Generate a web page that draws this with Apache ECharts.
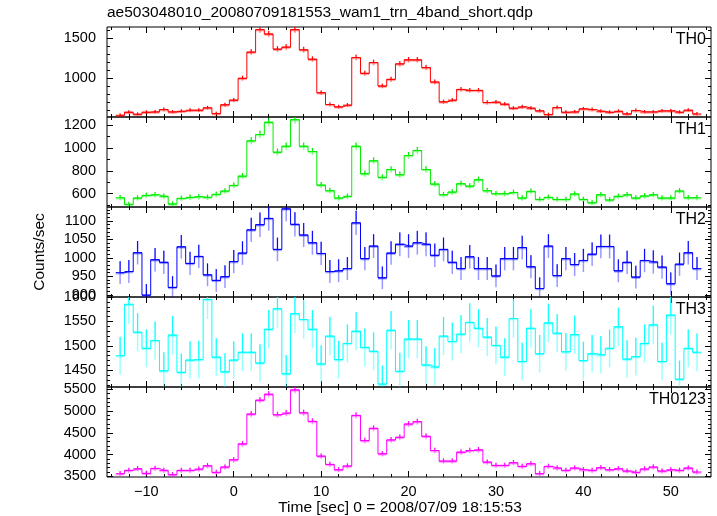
<!DOCTYPE html>
<html>
<head>
<meta charset="utf-8">
<script src="https://cdn.jsdelivr.net/npm/echarts@6/dist/echarts.min.js"></script>
<style>html,body{margin:0;padding:0;background:#fff}#c{width:717px;height:516px}</style>
</head>
<body>
<div id="c"></div>
<script>
// ---- data ----
const fileTitle = 'ae503048010_20080709181553_wam1_trn_4band_short.qdp';
const xTitle = 'Time [sec] 0 = 2008/07/09 18:15:53';
const yTitle = 'Counts/sec';
const panelNames = ['TH0', 'TH1', 'TH2', 'TH3', 'TH0123'];

const timeBins = [-13,-12,-11,-10,-9,-8,-7,-6,-5,-4,-3,-2,-1,0,1,2,3,4,5,6,7,8,9,10,11,12,13,14,15,16,17,18,19,
  20,21,22,23,24,25,26,27,28,29,30,31,32,33,34,35,36,37,38,39,40,41,42,43,44,45,46,47,48,49,50,51,52,53];

const th0 = [541,579,554,579,583,612,583,591,604,604,633,562,671,729,1000,1325,1604,1550,1362,1387,1604,1354,1237,821,675,646,667,1258,1062,1196,904,987,1179,
  1229,1229,1133,954,708,729,862,850,850,700,704,679,629,646,629,596,550,637,579,583,621,612,591,579,591,558,600,583,583,596,596,579,604,558];
const th1 = [565,507,562,585,591,577,510,559,568,574,568,594,623,672,753,1061,1116,1223,962,1014,1246,1014,968,675,626,562,577,1014,774,887,742,811,765,
  933,977,811,684,591,614,687,666,722,626,600,600,611,562,620,550,568,550,550,597,550,521,591,545,577,591,562,580,591,562,562,623,565,565];
const th2 = [960,963,1014,899,995,988,920,1030,985,1004,954,939,949,990,1013,1076,1090,1107,1023,1133,1091,1062,1041,1012,963,965,971,1095,998,1032,946,1013,1037,
  1032,1041,1037,1007,1023,988,971,1003,971,971,951,998,998,1028,976,917,1032,952,998,982,993,1010,1031,1031,965,988,948,993,989,975,930,983,1014,971];
const th3 = [1480,1585,1528,1495,1511,1449,1522,1446,1471,1472,1595,1477,1447,1471,1487,1487,1465,1534,1576,1443,1566,1554,1534,1463,1520,1472,1505,1530,1497,1489,1422,1532,1448,
  1514,1514,1461,1457,1520,1509,1524,1548,1536,1518,1501,1477,1556,1468,1536,1484,1547,1526,1488,1523,1470,1484,1482,1495,1539,1473,1478,1505,1543,1468,1563,1432,1495,1487];
const th0123 = [3561,3637,3675,3568,3682,3637,3538,3637,3637,3667,3743,3591,3713,3880,4245,4930,5249,5386,4914,4952,5485,4960,4762,3964,3774,3652,3736,4899,4321,4603,4017,4336,4397,
  4701,4755,4420,4093,3850,3850,4055,4093,4108,3827,3751,3751,3812,3728,3789,3561,3728,3690,3637,3690,3652,3637,3698,3652,3675,3622,3591,3667,3713,3622,3652,3637,3690,3599];

const xTickLabels = [-10, 0, 10, 20, 30, 40, 50];
const yTickLabels = [
  [1000, 1500],
  [600, 800, 1000, 1200],
  [900, 950, 1000, 1050, 1100],
  [1450, 1500, 1550, 1600],
  [3500, 4000, 4500, 5000, 5500]
];

// ---- layout / style ----
const seriesValues = [th0, th1, th2, th3, th0123];
const colors = ['#ff0000', '#00ee00', '#0000ff', '#00ffff', '#ff00ff'];
const yRanges = [[520, 1637], [484, 1269], [894, 1138], [1416, 1600], [3485, 5552]];
const yMinorStep = [100, 100, 10, 10, 100];
const xRange = [-14.5, 54.6];
const FONT = '"Liberation Sans", Arial, Helvetica, sans-serif';
const gridLeft = 107, gridRight = 6, gridTop0 = 27, panelH = 90;

function steps(a, b, s) { const r = []; for (let v = Math.ceil(a / s) * s; v <= b + 1e-9; v += s) r.push(+v.toFixed(6)); return r; }
const xMinor = steps(xRange[0], xRange[1], 2);

const grids = [], xAxes = [], yAxes = [], series = [], titles = [];
titles.push({ text: fileTitle, left: gridLeft, top: 5, padding: 0,
  textStyle: { fontSize: 15.5, fontWeight: 'normal', color: '#000', fontFamily: FONT } });

function axisBase(extra) {
  return Object.assign({
    type: 'value', axisLine: { show: false, onZero: false },
    splitLine: { show: false }, minorTick: { show: false }, minorSplitLine: { show: false }
  }, extra);
}

for (let i = 0; i < 5; i++) {
  const top = gridTop0 + panelH * i;
  grids.push({ left: gridLeft, right: gridRight, top: top, height: panelH, show: true,
    borderColor: '#000', borderWidth: 1, backgroundColor: 'transparent' });
  const last = i === 4;
  [['bottom', xTickLabels, 6, last], ['bottom', xMinor, 3, false], ['top', xTickLabels, 6, false], ['top', xMinor, 3, false]]
    .forEach(([pos, vals, len, lab]) => {
      xAxes.push(axisBase({
        gridIndex: i, position: pos, min: xRange[0], max: xRange[1],
        axisTick: { show: true, inside: true, length: len, customValues: vals, lineStyle: { color: '#000', width: 1 } },
        axisLabel: { show: lab, customValues: xTickLabels, margin: 7, fontSize: 14.5, color: '#000', fontFamily: FONT,
          formatter: v => String(v).replace('-', '\u2212') }
      }));
    });
  const yr = yRanges[i];
  const yMinor = steps(yr[0], yr[1], yMinorStep[i]);
  [['left', yTickLabels[i], 6, true], ['left', yMinor, 3, false], ['right', yTickLabels[i], 6, false], ['right', yMinor, 3, false]]
    .forEach(([pos, vals, len, lab], k) => {
      const ax = axisBase({
        gridIndex: i, position: pos, min: yr[0], max: yr[1],
        axisTick: { show: true, inside: true, length: len, customValues: vals, lineStyle: { color: '#000', width: 1 } },
        axisLabel: { show: lab, customValues: yTickLabels[i], margin: 11, fontSize: 14.5, color: '#000', fontFamily: FONT,
          showMinLabel: true, showMaxLabel: true, formatter: v => String(v) }
      });
      if (i === 2 && k === 0) {
        ax.name = yTitle; ax.nameLocation = 'middle'; ax.nameGap = 59;
        ax.nameTextStyle = { fontSize: 15.5, color: '#000', fontFamily: FONT };
      }
      yAxes.push(ax);
    });

  const vals = seriesValues[i];
  const lineData = timeBins.map((t, j) => [t, vals[j]]);
  const errData = timeBins.map((t, j) => [t, vals[j], Math.sqrt(vals[j])]); // Poisson errors, 1 s bins
  const col = colors[i];
  series.push({
    type: 'custom', xAxisIndex: 4 * i, yAxisIndex: 4 * i, data: errData, clip: true, z: 2,
    renderItem: function (params, api) {
      const x = api.value(0), y = api.value(1), e = api.value(2);
      const a = api.coord([x - 0.5, y]), b = api.coord([x + 0.5, y]);
      const lo = api.coord([x, y - e]), hi = api.coord([x, y + e]), mid = api.coord([x, y]);
      return { type: 'group', children: [
        { type: 'line', shape: { x1: a[0], y1: a[1] + 1, x2: b[0], y2: b[1] + 1 }, style: { stroke: col, lineWidth: 1.5, opacity: 0.35 } },
        { type: 'line', shape: { x1: a[0], y1: a[1], x2: b[0], y2: b[1] }, style: { stroke: col, lineWidth: 1 } },
        { type: 'line', shape: { x1: lo[0], y1: lo[1], x2: hi[0], y2: hi[1] }, style: { stroke: col, lineWidth: 1.5, opacity: 0.4 } },
        { type: 'line', shape: { x1: mid[0], y1: mid[1], x2: hi[0], y2: hi[1] }, style: { stroke: col, lineWidth: 1 } }
      ] };
    }
  });
  series.push({
    type: 'line', xAxisIndex: 4 * i, yAxisIndex: 4 * i, data: lineData, step: 'middle',
    symbol: 'none', lineStyle: { color: col, width: 1 }, clip: true, z: 3, animation: false
  });
  titles.push({ text: panelNames[i], right: 11, top: top + 5, padding: 0,
    textStyle: { fontSize: 16, fontWeight: 'normal', color: '#000', fontFamily: FONT } });
}

const chart = echarts.init(document.getElementById('c'), null, { renderer: 'canvas' });
chart.setOption({
  animation: false,
  backgroundColor: '#fff',
  title: titles,
  grid: grids,
  xAxis: xAxes,
  yAxis: yAxes,
  series: series,
  graphic: [{ type: 'text', style: { text: xTitle, x: 400, y: 508, textAlign: 'center', textVerticalAlign: 'middle',
    font: '15.5px ' + FONT, fill: '#000' } }]
});
</script>
</body>
</html>
